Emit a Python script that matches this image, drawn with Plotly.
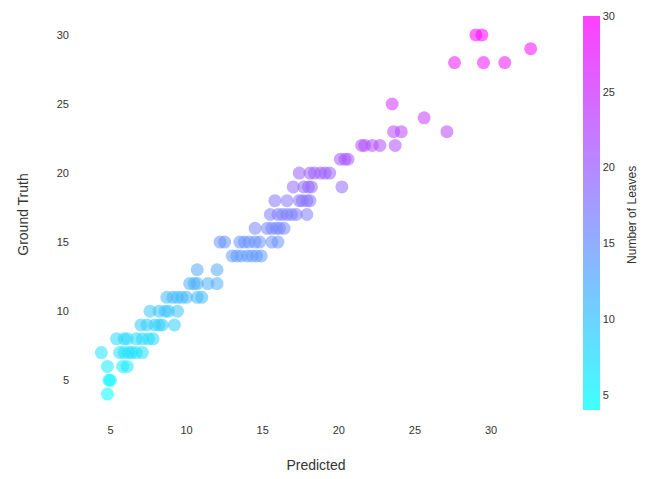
import plotly.graph_objects as go

# Predicted values grouped by ground-truth leaf count
rows = {
    4: [4.8],
    5: [4.9, 5.0],
    6: [4.8, 5.8, 6.1],
    7: [4.4, 5.6, 5.9, 6.2, 6.4, 6.7, 7.1],
    8: [5.4, 5.9, 6.1, 6.7, 7.1, 7.5, 7.8],
    9: [7.0, 7.4, 7.9, 8.2, 8.4, 9.2],
    10: [7.6, 8.2, 8.6, 8.8, 9.4],
    11: [8.7, 9.1, 9.4, 9.7, 10.0, 10.7, 11.0],
    12: [10.2, 10.5, 10.7, 11.4, 12.0],
    13: [10.7, 12.0],
    14: [13.0, 13.3, 13.6, 14.0, 14.3, 14.6, 14.9],
    15: [12.2, 12.5, 13.5, 13.8, 14.1, 14.5, 14.8, 15.6, 16.0],
    16: [14.5, 15.3, 15.6, 15.9, 16.1, 16.4],
    17: [15.5, 16.0, 16.3, 16.6, 16.9, 17.2, 17.9],
    18: [15.8, 16.6, 17.4, 17.6, 17.9, 18.1],
    19: [17.0, 17.7, 18.0, 18.2, 20.2],
    20: [17.4, 18.1, 18.4, 18.8, 19.1, 19.4],
    21: [20.1, 20.4, 20.6],
    22: [21.5, 21.7, 22.2, 22.7, 23.7],
    23: [23.6, 24.1, 27.1],
    24: [25.6],
    25: [23.5],
    28: [27.6, 29.5, 30.9],
    29: [32.6],
    30: [29.0, 29.4],
}

predicted = [p for gt, ps in rows.items() for p in ps]
ground_truth = [gt for gt, ps in rows.items() for p in ps]

tick_vals = [5, 10, 15, 20, 25, 30]

def cool(alpha):
    return [[0.0, f"rgba(0,255,255,{alpha})"], [1.0, f"rgba(255,0,255,{alpha})"]]

font_col = "#333333"
fig = go.Figure()
fig.add_trace(go.Scatter(
    x=predicted, y=ground_truth, mode="markers",
    marker=dict(size=13, color=ground_truth, colorscale=cool(0.55), cmin=4, cmax=30,
                line=dict(width=0), showscale=False),
    showlegend=False,
))
# invisible helper trace carrying the colour bar
fig.add_trace(go.Scatter(
    x=[None], y=[None], mode="markers", hoverinfo="skip", showlegend=False,
    marker=dict(
        color=[4], colorscale=cool(0.75), cmin=4, cmax=30, showscale=True,
        colorbar=dict(
            thickness=17, len=394, lenmode="pixels", xpad=0, ypad=0,
            x=1.0657, xanchor="left", y=1.0025, yanchor="top",
            outlinewidth=0, tickvals=tick_vals, ticks="",
            tickfont=dict(size=11, color=font_col),
        ),
    ),
))

fig.add_annotation(
    text="Number of Leaves", textangle=-90, showarrow=False,
    xref="paper", yref="paper", x=1.1695, y=0.499,
    xanchor="center", yanchor="middle",
    font=dict(size=12, color=font_col),
)

fig.update_layout(
    width=652, height=479,
    margin=dict(l=80, r=100, t=17, b=67, autoexpand=False),
    plot_bgcolor="white", paper_bgcolor="white",
    font=dict(family="Liberation Sans, Arial, sans-serif", color=font_col),
    xaxis=dict(range=[3, 34], tickvals=tick_vals, showgrid=False, zeroline=False,
               showline=False, ticks="", tickfont=dict(size=11, color=font_col),
               automargin=False, ticklabelstandoff=10,
               title=dict(text="Predicted", font=dict(size=14, color=font_col), standoff=25)),
    yaxis=dict(range=[2.7, 31.3], tickvals=tick_vals, showgrid=False, zeroline=False,
               showline=False, ticks="", tickfont=dict(size=11, color=font_col),
               automargin=False, ticklabelstandoff=10,
               title=dict(text="Ground Truth", font=dict(size=14, color=font_col), standoff=24)),
)

fig.write_html("out.html", post_script="document.body.style.margin='0';",
               config={"displayModeBar": False})
